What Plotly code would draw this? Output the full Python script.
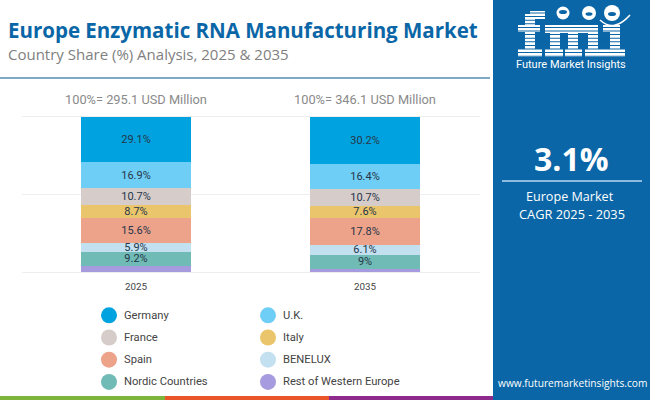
"""Europe Enzymatic RNA Manufacturing Market - share por pais."""
import plotly.graph_objects as go

years = ['2025', '2035']
totals = ['100%= 295.1 USD Million', '100%= 346.1 USD Million']

# de cima para baixo na barra
countries = ['Germany', 'U.K.', 'France', 'Italy', 'Spain', 'BENELUX',
             'Nordic Countries', 'Rest of Western Europe']
share_2025 = [29.1, 16.9, 10.7, 8.7, 15.6, 5.9, 9.2, 3.9]
share_2035 = [30.2, 16.4, 10.7, 7.6, 17.8, 6.1, 9.0, 2.2]
labels_2025 = ['29.1%', '16.9%', '10.7%', '8.7%', '15.6%', '5.9%', '9.2%', '']
labels_2035 = ['30.2%', '16.4%', '10.7%', '7.6%', '17.8%', '6.1%', '9%', '']
colors = ['#00A3DF', '#6FCEF5', '#D6CCC9', '#EAC56B', '#EDA28A', '#C2E0F0',
          '#70BBB6', '#A69BDF']

BLUE = '#0A66A6'
W, H = 650, 400


def px_x(x):
    return x / W


def px_y(y):
    return 1 - y / H


def note(x, y, text, size, color, family='Roboto', anchor='left'):
    return dict(x=px_x(x), y=px_y(y), xref='paper', yref='paper', text=text,
                showarrow=False, xanchor=anchor, yanchor='middle',
                font=dict(size=size, color=color, family=family))


def box(x0, y0, x1, y1, color, kind='rect'):
    return dict(type=kind, xref='paper', yref='paper', x0=px_x(x0), x1=px_x(x1),
                y0=px_y(y0), y1=px_y(y1), fillcolor=color, line_width=0,
                layer='above')


data = []
# barras empilhadas: a ultima categoria fica na base
for i in reversed(range(len(countries))):
    data.append(go.Bar(
        x=years,
        y=[share_2025[i], share_2035[i]],
        name=countries[i],
        marker=dict(color=colors[i], line_width=0),
        text=[labels_2025[i], labels_2035[i]],
        textposition='inside',
        insidetextanchor='middle',
        constraintext='none',
        textangle=0,
        textfont=dict(size=11, color='#26364A', family='Roboto'),
    ))

annotations = [
    note(6, 30, '<b>Europe Enzymatic RNA Manufacturing Market</b>', 20.5, BLUE, 'Open Sans'),
    note(6, 54, 'Country Share (%) Analysis, 2025 & 2035', 15, '#808080', 'Open Sans'),
    note(136, 99, totals[0], 12.8, '#8A8A8A', anchor='center'),
    note(365, 99, totals[1], 12.8, '#8A8A8A', anchor='center'),
    note(571.5, 158, '<b>3.1%</b>', 32, 'white', 'Open Sans', 'center'),
    note(570, 197, 'Europe Market', 12.6, 'white', 'Open Sans', 'center'),
    note(571.5, 214, 'CAGR 2025 - 2035', 12.8, 'white', 'Open Sans', 'center'),
    note(572, 383, 'www.futuremarketinsights.com', 10.2, 'white', 'Open Sans', 'center'),
    note(571, 64, 'Future Market Insights', 11, 'white', 'Roboto', 'center'),
]

shapes = [
    box(493, 0, 650, 400, BLUE),
    box(0, 77, 490, 79, '#7FA8C6'),
    box(0, 396, 165, 400, '#7DB53C'),
    box(165, 396, 329, 400, '#E8562A'),
    box(329, 396, 493, 400, '#8E2A8B'),
    box(502, 180, 642, 182, '#8DBBDD'),
]

# logo fmi desenhado com retangulos
logo_rects = [
    # f
    (525, 14, 535, 50), (530, 11, 545, 19), (518, 25, 540, 32), (518, 49, 542, 57),
    # m
    (545, 25, 598, 33), (550, 25, 560, 50), (568, 25, 578, 50), (588, 25, 598, 50),
    (545, 49, 563, 57), (565, 49, 582, 57), (585, 49, 603, 57),
    # i
    (603, 25, 620, 32), (610, 25, 620, 50), (603, 49, 625, 57),
]
for x0, y0, x1, y1 in logo_rects:
    shapes.append(box(x0, y0, x1, y1, 'white'))

# listras do logo
for k in range(13):
    y = 12.5 + k * 3.6
    shapes.append(box(515, y, 628, y + 1, BLUE))

# globos do logo
for cx, cy, r in [(563, 13, 6.5), (589, 13, 7), (612, 13, 8)]:
    shapes.append(box(cx - r, cy - r, cx + r, cy + r, 'white', 'circle'))
for cx, cy, r in [(563, 12, 4), (589, 14, 3.5), (612, 14, 4)]:
    shapes.append(box(cx - r, cy - r / 2, cx + r, cy + r / 2, BLUE, 'circle'))

# arco do logo
arc = 'M {} {} Q {} {} {} {}'.format(px_x(600), px_y(20), px_x(614), px_y(33),
                                     px_x(630), px_y(15))
shapes.append(dict(type='path', xref='paper', yref='paper', path=arc,
                   line=dict(color='white', width=1.5), layer='above'))

# legenda manual em duas colunas
for i, name in enumerate(countries):
    col, row = i % 2, i // 2
    cx = 109 if col == 0 else 268
    cy = 315.3 + row * 22.2
    shapes.append(box(cx - 8, cy - 8, cx + 8, cy + 8, colors[i], 'circle'))
    annotations.append(note(cx + 13, cy, name, 11.2, '#444444'))

fig = go.Figure(data=data)
fig.update_layout(
    barmode='stack',
    bargap=0.52,
    width=W,
    height=H,
    margin=dict(l=0, r=0, t=0, b=0),
    paper_bgcolor='white',
    plot_bgcolor='white',
    showlegend=False,
    annotations=annotations,
    shapes=shapes,
    xaxis=dict(domain=[px_x(21.5), px_x(479.5)], type='category', showgrid=False,
               showline=True, linecolor='#EEEEEE', mirror=True, ticks='',
               ticklabelstandoff=5,
               tickfont=dict(size=9.8, color='#444444', family='Roboto')),
    yaxis=dict(domain=[px_y(272), px_y(117)], range=[0, 100], dtick=50,
               showgrid=True, gridcolor='#EEEEEE', zeroline=False,
               showticklabels=False, ticks=''),
)

fig.write_html('out.html', config={'displayModeBar': False},
               post_script="document.body.style.margin='0';")
